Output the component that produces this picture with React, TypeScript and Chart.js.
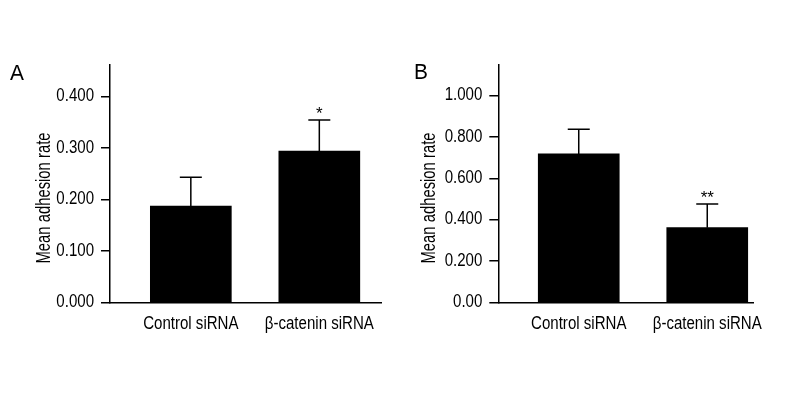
import { useEffect, useRef } from 'react';
import { Chart, registerables } from 'chart.js';

Chart.register(...registerables);

const categories = ['Control siRNA', 'β-catenin siRNA'];
const valuesA = [0.187, 0.294];
const errorsA = [0.056, 0.06];
const marksA = ['', '*'];
const tickValuesA = [0, 0.1, 0.2, 0.3, 0.4];
const tickLabelsA = ['0.000', '0.100', '0.200', '0.300', '0.400'];
const valuesB = [0.718, 0.361];
const errorsB = [0.119, 0.115];
const marksB = ['', '**'];
const tickValuesB = [0, 0.2, 0.4, 0.6, 0.8, 1.0];
const tickLabelsB = ['0.00', '0.200', '0.400', '0.600', '0.800', '1.000'];
const yTitle = 'Mean adhesion rate';

const FONT = "'Liberation Sans', Arial, sans-serif";
const TICK_SQUEEZE = 0.86;
const TITLE_SQUEEZE = 0.76;

type PanelSpec = {
  letter: string;
  values: number[];
  errors: number[];
  marks: string[];
  tickValues: number[];
  tickLabels: string[];
  yMax: number;
  xMin: number;
  xMax: number;
  padLeft: number;
  axisWidth: number;
  padRight: number;
  titleX: number;
  letterX: number;
  letterY: number;
};

const panelA: PanelSpec = {
  letter: 'A',
  values: valuesA,
  errors: errorsA,
  marks: marksA,
  tickValues: tickValuesA,
  tickLabels: tickLabelsA,
  yMax: 0.461,
  xMin: -0.629,
  xMax: 1.48,
  padLeft: 30,
  axisWidth: 80,
  padRight: 19,
  titleX: 44.5,
  letterX: 10,
  letterY: 80,
};

const panelB: PanelSpec = {
  letter: 'B',
  values: valuesB,
  errors: errorsB,
  marks: marksB,
  tickValues: tickValuesB,
  tickLabels: tickLabelsB,
  yMax: 1.148,
  xMin: -0.626,
  xMax: 1.356,
  padLeft: 17,
  axisWidth: 81.3,
  padRight: 47,
  titleX: 29.5,
  letterX: 14,
  letterY: 79,
};

// Emulate the reference's condensed typeface by squeezing text horizontally
// around its anchor point while Chart.js draws its own tick labels.
const condense = {
  id: 'condense',
  beforeDraw(chart: any) {
    const ctx = chart.ctx;
    if (ctx.__origFillText) return;
    const orig = ctx.fillText;
    ctx.__origFillText = orig;
    ctx.fillText = function (t: string, x: number, y: number) {
      this.save();
      this.translate(x, y);
      this.scale(TICK_SQUEEZE, 1);
      orig.call(this, t, 0, 0);
      this.restore();
    };
  },
  afterDraw(chart: any) {
    const ctx = chart.ctx;
    if (ctx.__origFillText) {
      ctx.fillText = ctx.__origFillText;
      delete ctx.__origFillText;
    }
  },
};

function squeezedText(ctx: CanvasRenderingContext2D, t: string, x: number, y: number, sx: number) {
  ctx.save();
  ctx.translate(x, y);
  ctx.scale(sx, 1);
  ctx.fillText(t, 0, 0);
  ctx.restore();
}

function Panel({ spec, left }: { spec: PanelSpec; left: number }) {
  const ref = useRef<HTMLCanvasElement | null>(null);
  useEffect(() => {
    if (!ref.current) return;
    const decor = {
      id: 'decor',
      afterDraw(chart: any) {
        const ctx = chart.ctx;
        const meta = chart.getDatasetMeta(0);
        const ys = chart.scales.y;
        ctx.save();
        ctx.strokeStyle = '#000';
        ctx.fillStyle = '#000';
        ctx.lineWidth = 1.5;
        meta.data.forEach((el: any, i: number) => {
          const yTop = ys.getPixelForValue(spec.values[i] + spec.errors[i]);
          ctx.beginPath();
          ctx.moveTo(el.x, el.y);
          ctx.lineTo(el.x, yTop);
          ctx.moveTo(el.x - 11, yTop);
          ctx.lineTo(el.x + 11, yTop);
          ctx.stroke();
          if (spec.marks[i]) {
            ctx.font = `17px ${FONT}`;
            ctx.textAlign = 'center';
            ctx.textBaseline = 'alphabetic';
            squeezedText(ctx, spec.marks[i], el.x, yTop - 1, 1);
          }
        });
        // y title
        ctx.save();
        ctx.translate(spec.titleX, 198);
        ctx.rotate(-Math.PI / 2);
        ctx.font = `19.5px ${FONT}`;
        ctx.textAlign = 'center';
        ctx.textBaseline = 'middle';
        squeezedText(ctx, yTitle, 0, 0, TITLE_SQUEEZE);
        ctx.restore();
        // panel letter
        ctx.font = `22px ${FONT}`;
        ctx.textAlign = 'left';
        ctx.textBaseline = 'alphabetic';
        squeezedText(ctx, spec.letter, spec.letterX, spec.letterY, 0.95);
        ctx.restore();
      },
    };
    const chart = new Chart(ref.current, {
      type: 'bar',
      data: {
        datasets: [
          {
            data: spec.values.map((v, i) => ({ x: i, y: v })),
            backgroundColor: '#000',
            borderWidth: 0,
            barThickness: 81,
          },
        ],
      },
      options: {
        responsive: false,
        animation: false,
        layout: { padding: { top: 65, left: spec.padLeft, right: spec.padRight, bottom: 0 } },
        plugins: { legend: { display: false }, tooltip: { enabled: false }, title: { display: false } },
        scales: {
          x: {
            type: 'linear',
            offset: false,
            min: spec.xMin,
            max: spec.xMax,
            grid: { display: false, drawTicks: false, offset: false },
            border: { display: true, color: '#000', width: 1.5 },
            afterBuildTicks: (scale: any) => {
              scale.ticks = categories.map((_, i) => ({ value: i }));
            },
            afterFit: (scale: any) => {
              scale.height = 400 - 302.3;
            },
            ticks: {
              autoSkip: false,
              maxRotation: 0,
              padding: 11,
              color: '#000',
              font: { family: FONT, size: 17.5 },
              callback: (v: any) => categories[Math.round(Number(v))] ?? '',
            },
          },
          y: {
            type: 'linear',
            min: 0,
            max: spec.yMax,
            grid: { display: true, drawOnChartArea: false, drawTicks: true, tickLength: 9, color: '#000', lineWidth: 1.5 },
            border: { display: true, color: '#000', width: 1.5 },
            afterBuildTicks: (scale: any) => {
              scale.ticks = spec.tickValues.map((v) => ({ value: v }));
            },
            afterFit: (scale: any) => {
              scale.width = spec.axisWidth;
            },
            ticks: {
              padding: 7,
              color: '#000',
              font: { family: FONT, size: 17.5 },
              callback: (_v: any, i: number) => spec.tickLabels[i],
            },
          },
        },
      },
      plugins: [condense, decor],
    } as any);
    return () => chart.destroy();
  }, [spec]);
  return (
    <canvas
      ref={ref}
      width={400}
      height={400}
      style={{ position: 'absolute', left, top: 0, width: 400, height: 400 }}
    />
  );
}

export default function App() {
  return (
    <div style={{ position: 'absolute', left: 0, top: 0, width: 800, height: 400, background: '#fff' }}>
      <Panel spec={panelA} left={0} />
      <Panel spec={panelB} left={400} />
    </div>
  );
}
